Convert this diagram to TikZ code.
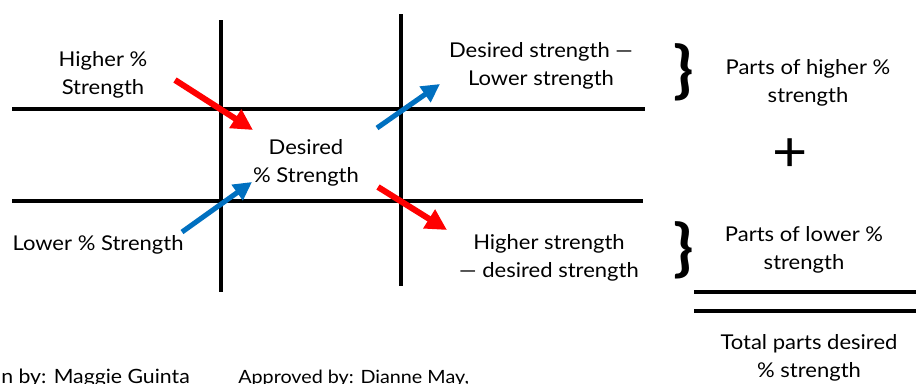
\documentclass[tikz,border=0pt]{standalone}
\usepackage{fontspec}
\setmainfont{Lato}[FakeStretch=1.08]
\usetikzlibrary{arrows.meta}

\begin{document}
\begin{tikzpicture}[x=0.025cm, y=-0.025cm, font=\fontsize{14.5}{19.5}\selectfont,
	gridline/.style={line width=2.9pt},
	label/.style={align=center, inner sep=0pt},
	redarrow/.style={-{Triangle[length=15pt, width=15pt]}, line width=4.3pt, color=arrowred},
	bluearrow/.style={-{Triangle[length=13pt, width=13pt]}, line width=3.6pt, color=arrowblue}]
				\definecolor{arrowred}{RGB}{255,0,0}
				\definecolor{arrowblue}{RGB}{0,112,192}
				\useasboundingbox (0,0) rectangle (916,383);

				% Grid
				\draw[gridline] (12,109) -- (645,109);
				\draw[gridline] (12,201) -- (643,201);
				\draw[gridline] (221,20) -- (221,292);
				\draw[gridline] (401,14) -- (401,286);

				% Strengths
				\node[label] (higher) at (103,75) {Higher \%\\Strength};
				\node[label] (lower) at (98,245) {Lower \% Strength};
				\node[label] (desired) at (306,163) {Desired\\\% Strength};
				\node[label] (upperdiff) at (541,66) {Desired strength —\\Lower strength};
				\node[label] (lowerdiff) at (549,258) {Higher strength\\— desired strength};

				% Arrows
				\coordinate (ra1) at (175,80);
				\coordinate (ra2) at (253,130);
				\coordinate (rb1) at (378,187);
				\coordinate (rb2) at (447,230);
				\coordinate (ba1) at (182,232);
				\coordinate (ba2) at (252,182);
				\coordinate (bb1) at (377,128);
				\coordinate (bb2) at (440,84);
				\draw[redarrow] (ra1) -- (ra2);
				\draw[redarrow] (rb1) -- (rb2);
				\draw[bluearrow] (ba1) -- (ba2);
				\draw[bluearrow] (bb1) -- (bb2);

				% Parts
				\node[inner sep=0pt, font=\fontsize{44}{44}\selectfont\bfseries] (brace1) at (684,72) {\}};
				\node[inner sep=0pt, font=\fontsize{44}{44}\selectfont\bfseries] (brace2) at (684,250) {\}};
				\node[label] (partshigh) at (808,83) {Parts of higher \%\\strength};
				\node[inner sep=0pt, font=\fontsize{40}{40}\selectfont] (plus) at (790,155) {+};
				\node[label] (partslow) at (804,250) {Parts of lower \%\\strength};
				\draw[gridline] (694,292) -- (916,292);
				\draw[gridline] (694,311) -- (916,311);
				\node[label] (total) at (809,358) {Total parts desired\\\% strength};

				% Credits
				\node[inner sep=0pt, anchor=base west, font=\fontsize{14}{17}\selectfont] (drawn) at (1,383) {n by: Maggie Guinta};
				\node[inner sep=0pt, anchor=base west, font=\fontsize{13}{16}\selectfont] (approved) at (238,383) {Approved by: Dianne May,};
			\end{tikzpicture}
\end{document}
